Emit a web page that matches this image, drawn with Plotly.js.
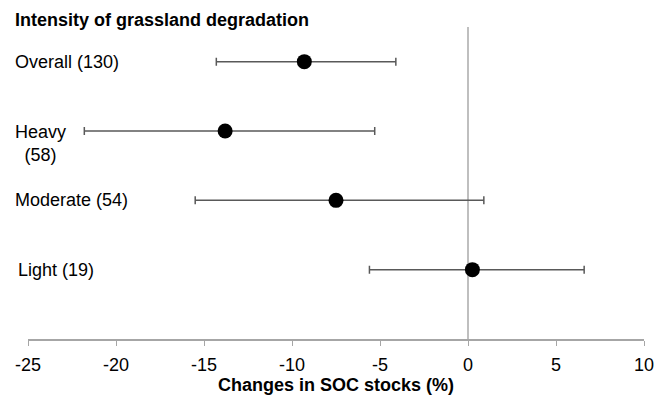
<!DOCTYPE html>
<html>
<head>
<meta charset="utf-8">
<script src="https://cdn.plot.ly/plotly-3.0.1.min.js"></script>
<style>
html,body{margin:0;padding:0;background:#fff;}
#chart{width:667px;height:400px;}
</style>
</head>
<body>
<div id="chart"></div>
<script>
// Data
var categories = ['Overall', 'Heavy', 'Moderate', 'Light'];
var counts = [130, 58, 54, 19];
var meanChange = [-9.3, -13.8, -7.5, 0.25];
var ciLower = [-14.3, -21.8, -15.5, -5.6];
var ciUpper = [-4.1, -5.3, 0.9, 6.6];
var rowPos = [4, 3, 2, 1];
var xTicks = [-25, -20, -15, -10, -5, 0, 5, 10];

var errPlus = meanChange.map(function (m, i) { return ciUpper[i] - m; });
var errMinus = meanChange.map(function (m, i) { return m - ciLower[i]; });

var FONT = 'Liberation Sans, Arial, sans-serif';

var trace = {
  type: 'scatter',
  mode: 'markers',
  x: meanChange,
  y: rowPos,
  marker: {color: '#000000', size: 15},
  error_x: {
    type: 'data',
    symmetric: false,
    array: errPlus,
    arrayminus: errMinus,
    color: '#595959',
    thickness: 1.5,
    width: 4
  },
  hoverinfo: 'x',
  showlegend: false
};

var labelText = categories.map(function (c, i) {
  return c === 'Heavy' ? c + '<br>(' + counts[i] + ')' : c + ' (' + counts[i] + ')';
});
var labelXPaper = [-0.024, -0.025, -0.025, -0.02];
var yMax = 4.5;

var annotations = labelText.map(function (t, i) {
  var isTwo = categories[i] === 'Heavy';
  return {
    xref: 'paper', yref: 'paper',
    x: labelXPaper[i], y: rowPos[i] / yMax,
    text: t,
    showarrow: false,
    xanchor: 'left',
    yanchor: isTwo ? 'top' : 'middle',
    yshift: isTwo ? 11 : 0,
    align: 'center',
    font: {family: FONT, size: 18, color: '#000'}
  };
});

annotations.push({
  xref: 'paper', yref: 'paper',
  x: -0.025, y: 1.0, yshift: 7,
  xanchor: 'left', yanchor: 'middle',
  text: '<b>Intensity of grassland degradation</b>',
  showarrow: false,
  font: {family: FONT, size: 18, color: '#000'}
});

var layout = {
  width: 667,
  height: 400,
  margin: {l: 28, r: 23, t: 27, b: 61},
  paper_bgcolor: '#ffffff',
  plot_bgcolor: '#ffffff',
  xaxis: {
    range: [-25, 10],
    tickvals: xTicks,
    ticktext: xTicks.map(String),
    showgrid: false,
    zeroline: true,
    zerolinecolor: '#bfbfbf',
    zerolinewidth: 1.5,
    showline: true,
    linecolor: '#a6a6a6',
    linewidth: 1.5,
    ticks: 'outside',
    ticklen: 5,
    tickcolor: '#a6a6a6',
    tickwidth: 1,
    ticklabelstandoff: 4,
    tickfont: {family: FONT, size: 18, color: '#000'},
    title: {
      text: '<b>Changes in SOC stocks (%)</b>',
      font: {family: FONT, size: 18, color: '#000'},
      standoff: 4
    },
    fixedrange: true
  },
  yaxis: {
    range: [0, yMax],
    visible: false,
    showgrid: false,
    zeroline: false,
    fixedrange: true
  },
  annotations: annotations
};

Plotly.newPlot('chart', [trace], layout, {displayModeBar: false, staticPlot: true});
</script>
</body>
</html>
